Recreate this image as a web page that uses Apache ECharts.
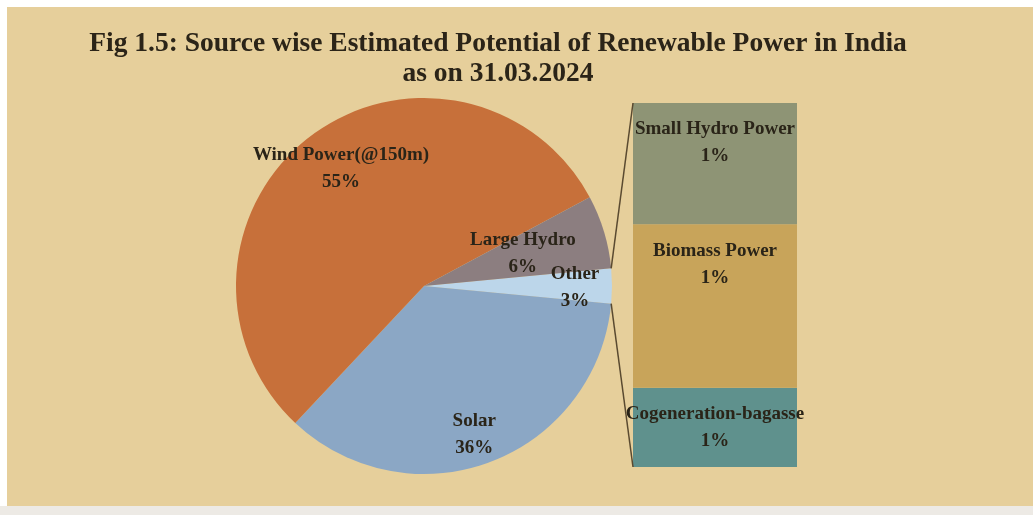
<!DOCTYPE html>
<html>
<head>
<meta charset="utf-8">
<script src="https://cdn.jsdelivr.net/npm/echarts@6/dist/echarts.min.js"></script>
<style>
html,body{margin:0;padding:0;background:#ffffff;}
#bg{position:absolute;left:7px;top:7px;width:1026px;height:499px;background:#E6CF9B;}
#strip{position:absolute;left:0;top:506px;width:1033px;height:9px;background:#EDEAE5;}
#chart{position:absolute;left:0;top:0;width:1033px;height:515px;}
</style>
</head>
<body>
<div id="bg"></div>
<div id="strip"></div>
<div id="chart"></div>
<script>
// ---- data (MW) ----
const pieNames = ['Other', 'Solar', 'Wind Power(@150m)', 'Large Hydro'];
const pieValues = [63399, 748990, 1163856, 133410];
const pieLabels = ['3%', '36%', '55%', '6%'];
const barNames = ['Cogeneration-bagasse', 'Biomass Power', 'Small Hydro Power'];
const barValues = [13818, 28447, 21134];
const barLabels = ['1%', '1%', '1%'];
const titleText = 'Fig 1.5: Source wise Estimated Potential of Renewable Power in India\nas on 31.03.2024';

// ---- styling ----
const pieColors = ['#BCD6EA', '#8BA7C5', '#C7703A', '#8C7E80'];
const barColors = ['#5F918D', '#C8A45A', '#8E9475'];
const FONT = '"Liberation Serif", "DejaVu Serif", serif';
const pieCenter = [424, 286];
const pieRadius = 188;
const gridBox = {left: 633, top: 103, width: 164, height: 364};
const labelNudge = [[27, 1], [8, 29], [-12, -20], [3, -2]];

const otherTotal = barValues.reduce((a, b) => a + b, 0);
const pieTotal = pieValues.reduce((a, b) => a + b, 0);
const otherAngle = pieValues[0] / pieTotal * 360;
const startAngle = otherAngle / 2;

const chart = echarts.init(document.getElementById('chart'), null, {renderer: 'canvas'});

const labelFont = {fontFamily: FONT, fontWeight: 'bold', fontSize: 19, lineHeight: 27, color: '#2a2418'};

const barSeries = barNames.map((n, i) => ({
  type: 'bar',
  name: n,
  stack: 'other',
  xAxisIndex: 0, yAxisIndex: 0,
  barWidth: '100%',
  data: [barValues[i]],
  itemStyle: {color: barColors[i]},
  silent: true,
  label: Object.assign({
    show: true,
    position: 'insideTop',
    distance: 13,
    formatter: n + '\n' + barLabels[i]
  }, labelFont)
}));

chart.setOption({
  animation: false,
  backgroundColor: 'transparent',
  title: {
    text: titleText,
    left: 493, top: 24, textAlign: 'center',
    textStyle: {fontFamily: FONT, fontWeight: 'bold', fontSize: 27.5, lineHeight: 30, color: '#2b2418'}
  },
  grid: {left: gridBox.left, top: gridBox.top, width: gridBox.width, height: gridBox.height, containLabel: false},
  xAxis: {type: 'category', data: ['Other'], show: false},
  yAxis: {type: 'value', min: 0, max: otherTotal, show: false},
  series: [{
    type: 'pie',
    center: pieCenter,
    radius: pieRadius,
    startAngle: startAngle,
    clockwise: true,
    silent: true,
    data: pieNames.map((n, i) => ({name: n, value: pieValues[i], itemStyle: {color: pieColors[i]}})),
    label: Object.assign({
      show: true,
      position: 'inside',
      formatter: p => p.name + '\n' + pieLabels[p.dataIndex]
    }, labelFont),
    labelLine: {show: false},
    labelLayout: p => ({dx: labelNudge[p.dataIndex][0], dy: labelNudge[p.dataIndex][1]})
  }].concat(barSeries)
});

// connector lines from the "Other" slice edges to the bar corners
const a1 = startAngle * Math.PI / 180;
const p1 = [pieCenter[0] + pieRadius * Math.cos(a1), pieCenter[1] - pieRadius * Math.sin(a1)];
const p2 = [pieCenter[0] + pieRadius * Math.cos(-a1), pieCenter[1] - pieRadius * Math.sin(-a1)];
const topLeft = chart.convertToPixel({gridIndex: 0}, [0, otherTotal]);
const botLeft = chart.convertToPixel({gridIndex: 0}, [0, 0]);
const barLeftX = gridBox.left;
chart.setOption({
  graphic: [
    {type: 'line', shape: {x1: p1[0], y1: p1[1], x2: barLeftX, y2: topLeft[1]}, style: {stroke: '#5a4a30', lineWidth: 1.5}, z: 10},
    {type: 'line', shape: {x1: p2[0], y1: p2[1], x2: barLeftX, y2: botLeft[1]}, style: {stroke: '#5a4a30', lineWidth: 1.5}, z: 10}
  ]
});
</script>
</body>
</html>
